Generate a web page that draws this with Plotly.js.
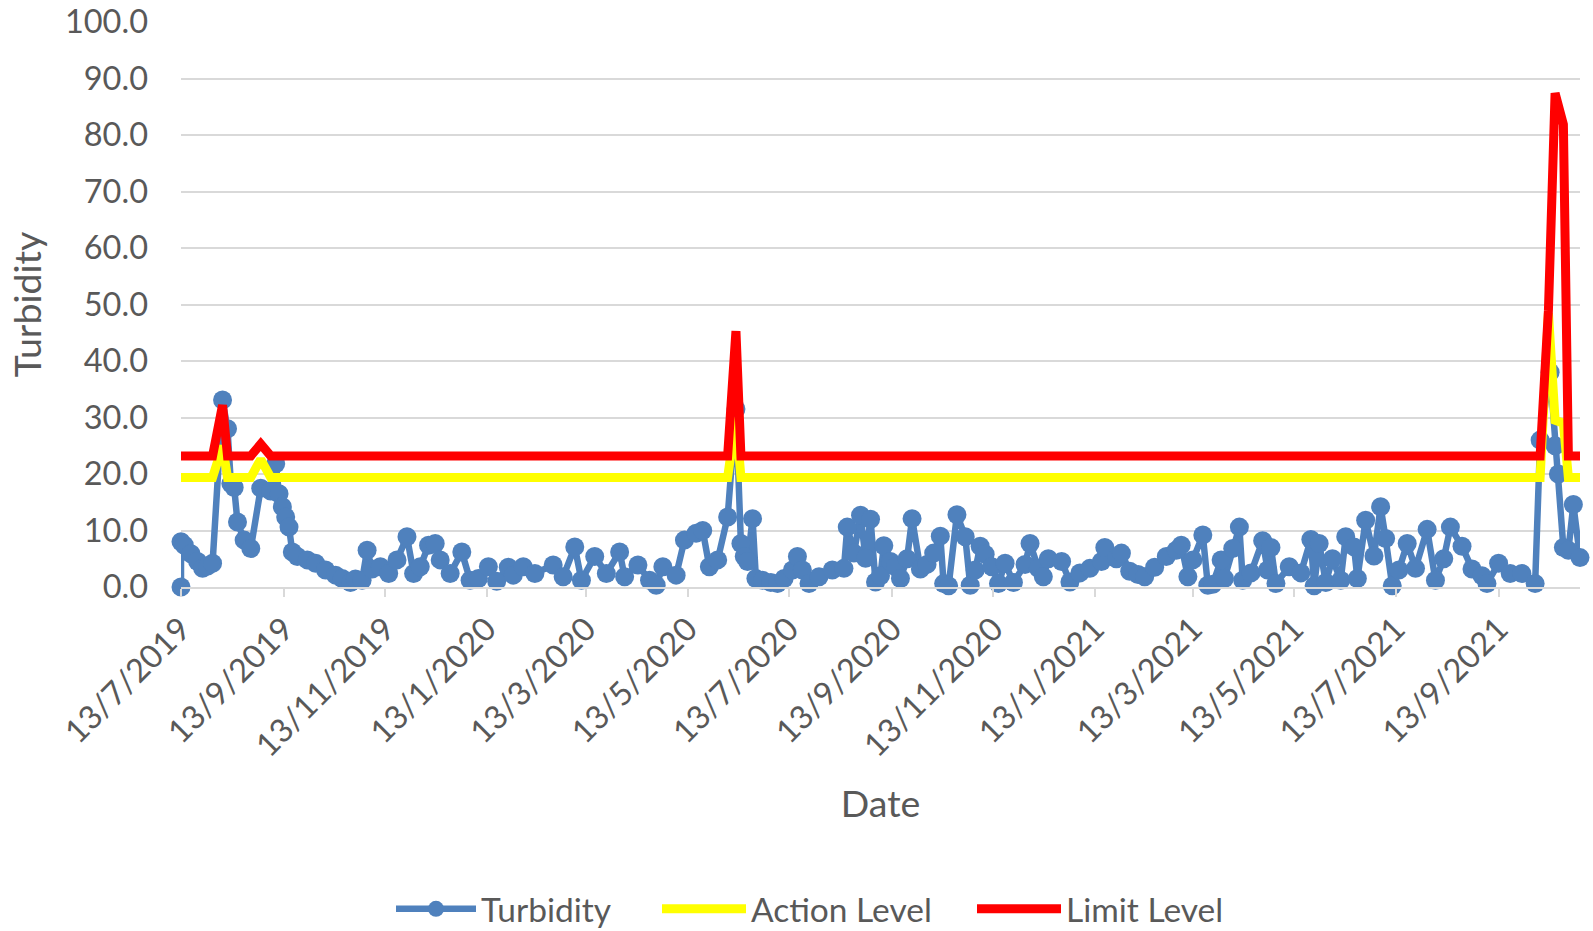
<!DOCTYPE html>
<html>
<head>
<meta charset="utf-8">
<script src="https://cdn.plot.ly/plotly-3.0.1.min.js"></script>
<style>
  html, body { margin: 0; padding: 0; background: #ffffff; }
  #chart { width: 1593px; height: 931px; }
</style>
</head>
<body>
<div id="chart"></div>
<script>
// ---- Data ----
var sampleDates = [
  '2019-07-13','2019-07-13','2019-07-15','2019-07-19','2019-07-23','2019-07-26','2019-07-29','2019-08-01',
  '2019-08-07','2019-08-10','2019-08-12','2019-08-14','2019-08-16','2019-08-20','2019-08-24','2019-08-30',
  '2019-09-05','2019-09-08','2019-09-10','2019-09-12','2019-09-14','2019-09-16','2019-09-18','2019-09-21',
  '2019-09-27','2019-10-02','2019-10-08','2019-10-14','2019-10-18','2019-10-23','2019-10-26','2019-10-30',
  '2019-11-02','2019-11-05','2019-11-10','2019-11-15','2019-11-20','2019-11-26','2019-11-30','2019-12-04',
  '2019-12-09','2019-12-13','2019-12-16','2019-12-22','2019-12-29','2020-01-03','2020-01-08','2020-01-14',
  '2020-01-19','2020-01-26','2020-01-29','2020-02-04','2020-02-11','2020-02-22','2020-02-28','2020-03-06',
  '2020-03-10','2020-03-18','2020-03-25','2020-04-02','2020-04-05','2020-04-13','2020-04-20','2020-04-24',
  '2020-04-28','2020-05-06','2020-05-11','2020-05-18','2020-05-22','2020-05-26','2020-05-31','2020-06-06',
  '2020-06-11','2020-06-14','2020-06-16','2020-06-18','2020-06-21','2020-06-23','2020-06-27','2020-07-02',
  '2020-07-06','2020-07-10','2020-07-15','2020-07-18','2020-07-21','2020-07-25','2020-07-31','2020-08-08',
  '2020-08-15','2020-08-17','2020-08-21','2020-08-25','2020-08-28','2020-08-31','2020-09-03','2020-09-06',
  '2020-09-08','2020-09-12','2020-09-15','2020-09-18','2020-09-22','2020-09-25','2020-09-30','2020-10-04',
  '2020-10-08','2020-10-12','2020-10-14','2020-10-17','2020-10-22','2020-10-27','2020-10-30','2020-11-02',
  '2020-11-05','2020-11-08','2020-11-12','2020-11-16','2020-11-20','2020-11-25','2020-12-02','2020-12-05',
  '2020-12-10','2020-12-13','2020-12-16','2020-12-24','2020-12-29','2021-01-04','2021-01-10','2021-01-17',
  '2021-01-19','2021-01-26','2021-01-29','2021-02-03','2021-02-08','2021-02-12','2021-02-18','2021-02-25',
  '2021-03-03','2021-03-06','2021-03-10','2021-03-13','2021-03-19','2021-03-22','2021-03-25','2021-03-30',
  '2021-04-01','2021-04-06','2021-04-10','2021-04-12','2021-04-17','2021-04-24','2021-04-27','2021-04-29',
  '2021-05-02','2021-05-10','2021-05-17','2021-05-23','2021-05-25','2021-05-28','2021-06-01','2021-06-05',
  '2021-06-10','2021-06-13','2021-06-18','2021-06-20','2021-06-25','2021-06-30','2021-07-04','2021-07-07',
  '2021-07-11','2021-07-15','2021-07-20','2021-07-25','2021-08-01','2021-08-06','2021-08-11','2021-08-15',
  '2021-08-22','2021-08-28','2021-09-03','2021-09-06','2021-09-13','2021-09-20','2021-09-27','2021-10-05',
  '2021-10-08','2021-10-14','2021-10-17','2021-10-19','2021-10-22','2021-10-25','2021-10-28','2021-11-01'
];
var turbidity = [
  0.0, 8.0, 7.4, 5.9, 4.5, 3.3, 3.7, 4.2,
  33.1, 28.0, 18.3, 17.6, 11.5, 8.3, 6.8, 17.5,
  17.0, 21.8, 16.5, 14.2, 12.4, 10.6, 6.2, 5.4,
  4.8, 4.2, 3.0, 2.1, 1.5, 0.8, 1.4, 1.2,
  6.5, 3.2, 3.6, 2.4, 4.8, 8.9, 2.4, 3.6,
  7.4, 7.7, 4.8, 2.4, 6.2, 1.2, 1.5, 3.6,
  1.0, 3.5, 2.1, 3.6, 2.4, 3.9, 1.8, 7.1,
  1.2, 5.4, 2.4, 6.2, 1.8, 3.9, 1.2, 0.3,
  3.6, 2.1, 8.3, 9.5, 10.0, 3.6, 4.8, 12.4,
  31.5, 7.7, 5.4, 4.5, 12.1, 1.5, 1.2, 0.8,
  0.6, 1.5, 3.0, 5.4, 3.0, 0.6, 1.8, 3.0,
  3.3, 10.6, 6.0, 12.7, 5.1, 12.0, 0.9, 2.0,
  7.3, 4.5, 3.6, 1.5, 5.0, 12.1, 3.2, 4.0,
  6.0, 9.0, 0.6, 0.2, 12.8, 8.9, 0.3, 3.0,
  7.2, 5.8, 3.6, 0.6, 4.2, 0.8, 4.0, 7.7,
  3.3, 1.8, 5.0, 4.5, 0.9, 2.5, 3.3, 4.5,
  7.0, 5.0, 6.0, 2.8, 2.2, 1.8, 3.5, 5.4,
  6.5, 7.4, 1.8, 4.8, 9.2, 0.3, 0.5, 4.8,
  1.5, 6.8, 10.6, 1.2, 2.5, 8.2, 3.0, 7.0,
  0.6, 3.6, 2.5, 8.4, 0.2, 7.7, 0.8, 5.0,
  1.2, 8.9, 7.1, 1.5, 11.8, 5.5, 14.2, 8.6,
  0.2, 3.0, 7.7, 3.3, 10.2, 1.2, 5.0, 10.6,
  7.2, 3.2, 2.0, 0.6, 4.2, 2.4, 2.4, 0.6,
  26.0, 38.0, 25.0, 20.0, 7.0, 6.5, 14.6, 5.2
];

// Action / Limit levels (flat between the listed dates)
var levelDates = [
  '2019-07-13','2019-08-01','2019-08-07','2019-08-10','2019-08-24','2019-08-30','2019-09-05',
  '2020-06-06','2020-06-11','2020-06-14',
  '2021-10-05','2021-10-08','2021-10-13','2021-10-17','2021-10-22','2021-10-25','2021-11-01'
];
var actionLevel = [
  19.4, 19.4, 25.0, 19.4, 19.4, 22.6, 19.4,
  19.4, 30.0, 19.4,
  19.4, 19.4, 48.5, 29.5, 29.0, 19.4, 19.4
];
var limitLevel = [
  23.2, 23.2, 32.2, 23.2, 23.2, 25.3, 23.2,
  23.2, 45.3, 23.2,
  23.2, 23.2, 49.0, 87.4, 81.9, 23.2, 23.2
];

var yTickValues = [0, 10, 20, 30, 40, 50, 60, 70, 80, 90, 100];
var seriesNames = ['Turbidity', 'Action Level', 'Limit Level'];
var axisTitles = { x: 'Date', y: 'Turbidity' };

// ---- Chart ----
var FONT = 'Lato, "Open Sans", sans-serif';
var TXT = '#595959';
var GRID = '#D9D9D9';

var traces = [
  {
    type: 'scatter', mode: 'lines+markers', name: seriesNames[0],
    x: sampleDates, y: turbidity,
    line: { color: '#4F81BD', width: 6.5 },
    marker: { color: '#4F81BD', size: 19, line: { width: 0 } },
    cliponaxis: false, legend: 'legend'
  },
  {
    type: 'scatter', mode: 'lines', name: seriesNames[1],
    x: levelDates, y: actionLevel,
    line: { color: '#FFFF00', width: 9 },
    legend: 'legend2'
  },
  {
    type: 'scatter', mode: 'lines', name: seriesNames[2],
    x: levelDates, y: limitLevel,
    line: { color: '#FF0000', width: 9 },
    legend: 'legend3'
  }
];

var legendCommon = {
  orientation: 'h', xref: 'container', yref: 'container',
  yanchor: 'middle', xanchor: 'left', y: 0.0236,
  font: { family: FONT, size: 33.5, color: TXT },
  itemwidth: 80, bgcolor: 'rgba(0,0,0,0)', borderwidth: 0
};

var layout = {
  width: 1593, height: 931,
  paper_bgcolor: '#ffffff', plot_bgcolor: '#ffffff',
  margin: { l: 181, r: 13, t: 22, b: 344, pad: 0 },
  font: { family: FONT, color: TXT },
  showlegend: true,
  xaxis: {
    type: 'date',
    range: [sampleDates[0], sampleDates[sampleDates.length - 1]],
    tick0: '2019-07-13', dtick: 'M2', tickformat: '%-d/%-m/%Y',
    tickangle: -45,
    tickfont: { family: FONT, size: 32.5, color: TXT },
    ticks: 'outside', ticklen: 8, tickwidth: 2, tickcolor: GRID,
    showline: true, linecolor: GRID, linewidth: 2,
    showgrid: false, zeroline: false,
    title: { text: axisTitles.x, font: { family: FONT, size: 37.5, color: TXT }, standoff: 28 }
  },
  yaxis: {
    range: [0, 100], tickvals: yTickValues, tickformat: '.1f',
    tickfont: { family: FONT, size: 32.5, color: TXT },
    showgrid: true, gridcolor: GRID, gridwidth: 2,
    zeroline: false, showline: false, ticks: '',
    ticklabelstandoff: 32,
    title: { text: axisTitles.y, font: { family: FONT, size: 37.5, color: TXT }, standoff: 11 }
  },
  legend: Object.assign({}, legendCommon, { x: 391 / 1593 }),
  legend2: Object.assign({}, legendCommon, { x: 657 / 1593, itemwidth: 84 }),
  legend3: Object.assign({}, legendCommon, { x: 972 / 1593, itemwidth: 84 }),
  hovermode: false
};

Plotly.newPlot('chart', traces, layout, { displayModeBar: false, staticPlot: true });
</script>
</body>
</html>
